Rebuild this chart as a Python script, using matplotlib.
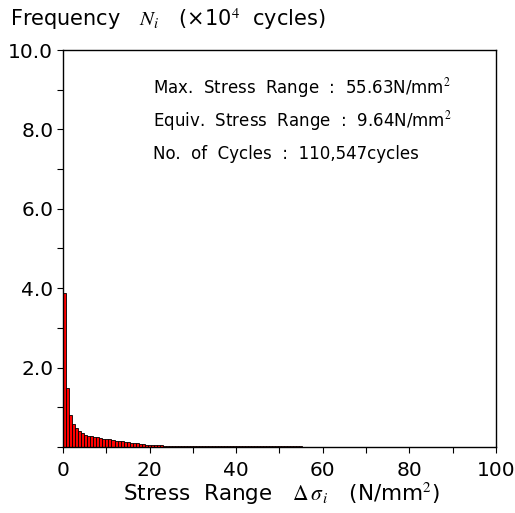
import matplotlib
matplotlib.use('Agg')
import matplotlib.pyplot as plt
import numpy as np

plt.rcParams['font.family'] = ['DejaVu Sans']
plt.rcParams['mathtext.fontset'] = 'stix'

# histogram of stress ranges, bin width 0.7 N/mm2, counts in 10^4 cycles
bin_width = 0.7
counts = [3.87, 1.48, 0.81, 0.58, 0.49, 0.40, 0.35, 0.31, 0.28, 0.27,
          0.25, 0.24, 0.22, 0.21, 0.20, 0.19, 0.17, 0.16, 0.15, 0.14,
          0.13, 0.12, 0.11, 0.10, 0.09, 0.08, 0.07, 0.06, 0.06, 0.05,
          0.05, 0.04, 0.04, 0.03, 0.03, 0.03, 0.02, 0.02, 0.02, 0.02,
          0.02, 0.02, 0.02, 0.015, 0.015, 0.015, 0.015, 0.015, 0.015, 0.015,
          0.015, 0.015, 0.015, 0.015, 0.015, 0.015, 0.015, 0.015, 0.015, 0.015,
          0.015, 0.015, 0.015, 0.015, 0.015, 0.015, 0.015, 0.015, 0.015, 0.015,
          0.015, 0.015, 0.015, 0.015, 0.015, 0.015, 0.015, 0.015, 0.015]

info_lines = ['Max.  Stress  Range  :  55.63N/mm$^{2}$',
              'Equiv.  Stress  Range  :  9.64N/mm$^{2}$',
              'No.  of  Cycles  :  110,547cycles']

x_ticks = [0, 20, 40, 60, 80, 100]
y_ticks = [2.0, 4.0, 6.0, 8.0, 10.0]

fig = plt.figure(figsize=(5.15, 5.13), dpi=100)
ax = fig.add_axes([0.1223, 0.1287, 0.8408, 0.7738])

left_edges = np.arange(len(counts)) * bin_width
ax.bar(left_edges, counts, width=bin_width, align='edge',
       color='#ff0000', edgecolor='black', linewidth=0.6)

ax.set_xlim(0, 100)
ax.set_ylim(0, 10)
ax.set_xticks(x_ticks)
ax.set_xticks(np.arange(0, 101, 10), minor=True)
ax.set_yticks(y_ticks)
ax.set_yticklabels(['%.1f' % v for v in y_ticks])
ax.set_yticks(np.arange(0, 10.01, 1.0), minor=True)
ax.tick_params(axis='both', which='both', direction='out', length=4, width=0.8,
               labelsize=14.5, pad=3)
ax.tick_params(axis='x', which='major', pad=6)
for s in ax.spines.values():
    s.set_linewidth(1.0)

for i, line in enumerate(info_lines):
    ax.text(0.208, 0.905 - i * 0.083, line, transform=ax.transAxes,
            fontsize=12, va='center', ha='left')

fig.text(0.02, 0.962, r'Frequency   $\mathit{N_i}$   (×10$^{4}$  cycles)', fontsize=15,
         va='center', ha='left')
fig.text(0.239, 0.038, r'Stress  Range   $\Delta\,\sigma_{\,i}$   (N/mm$^{2}$)',
         fontsize=15.5, va='center', ha='left')

fig.savefig('out.png', dpi=100)
